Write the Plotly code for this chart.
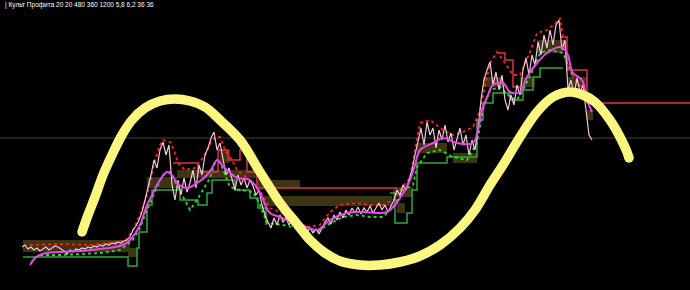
import plotly.graph_objects as go

# ---- data (chart units: x = bar position, y = price level, axis inverted) ----
price_start, price_step = 22, 3
price_y = [
    247, 245, 249, 247, 250, 248, 251, 249, 247, 250, 248, 246, 247, 249, 251, 254, 250, 252, 249, 250,
    248, 249, 247, 248, 246, 247, 245, 246, 244, 245, 243, 244, 242, 243, 241, 240, 237,
    230, 226, 220, 212, 200, 188, 175, 160, 168, 150,
    142, 155, 145, 185, 200, 180, 195, 178, 192, 183,
    170, 188, 165, 175, 155, 148, 138, 132, 150, 143,
    160, 175, 168, 180, 190, 175, 185, 178, 188, 180,
    186, 195, 190, 205, 215, 222, 228, 218, 225, 215,
    222, 218, 225, 220, 228, 225, 230, 226, 232, 228,
    233, 229, 234, 228, 222, 218, 224, 215, 220, 212,
    218, 210, 215, 208, 213, 207, 214, 208, 212, 206,
    213, 208, 203, 210, 205, 212, 206, 200, 190, 195,
    185, 190, 180, 170, 155, 140, 128, 145, 122, 135,
    128, 148, 130, 140, 125, 142, 133, 150, 140, 128,
    145, 135, 155, 140, 150, 130, 100, 80, 70, 62,
    85, 72, 90, 75, 100, 110, 95, 105, 85, 95,
    70, 58, 75, 55, 65, 42, 55, 35, 48, 30,
    45, 25, 20, 50, 40, 90, 80, 95, 78, 92,
    85, 110, 135, 140,
]
price_x = [price_start + price_step * i for i in range(len(price_y))]

ma_x = [30, 35, 42, 60, 80, 100, 115, 125, 132, 140, 147, 153, 160, 167, 172, 177, 187, 197, 207, 212,
        217, 222, 227, 237, 250, 260, 270, 280, 287, 300, 307, 317, 330, 347, 363, 377, 387, 395, 400, 405,
        410, 415, 420, 433, 443, 457, 473, 478, 482, 488, 493, 503, 510, 520, 527, 537, 547, 560, 567, 573,
        582, 587, 592]
ma_y = [265, 258, 254, 252, 251, 249, 247, 244, 238, 225, 205, 193, 180, 172, 175, 183, 188, 183, 175, 168,
        160, 165, 170, 178, 180, 193, 213, 217, 220, 225, 227, 230, 220, 213, 212, 213, 212, 205, 198, 190,
        180, 165, 150, 143, 138, 143, 143, 130, 110, 95, 85, 83, 92, 92, 77, 63, 53, 47, 53, 73,
        80, 100, 112]

upper_x = [30, 60, 90, 110, 125, 133, 140, 147, 155, 160, 163, 170, 174, 178, 185, 195, 205, 212, 217, 220,
           225, 232, 237, 247, 253, 260, 265, 270, 287, 307, 320, 330, 340, 357, 370, 383, 393, 400, 410, 415,
           420, 430, 443, 453, 463, 473, 480, 490, 497, 503, 513, 520, 530, 537, 547, 557, 560, 563, 567, 573,
           580, 585]
upper_y = [245, 244, 245, 243, 241, 230, 215, 195, 160, 145, 140, 142, 150, 163, 170, 168, 155, 140, 137, 137,
           150, 160, 170, 178, 183, 190, 200, 208, 215, 227, 225, 212, 205, 203, 205, 205, 200, 190, 178, 150,
           123, 120, 130, 135, 132, 127, 110, 63, 52, 60, 75, 75, 52, 33, 30, 22, 18, 37, 57, 77,
           85, 95]

lower_x = [40, 60, 80, 100, 120, 133, 140, 147, 157, 163, 170, 177, 183, 190, 197, 203, 210, 215, 220, 230,
           240, 253, 260, 267, 283, 307, 317, 327, 343, 357, 370, 383, 393, 403, 413, 417, 427, 440, 453, 467,
           477, 483, 490, 500, 510, 517, 523, 533, 540, 550, 563, 573]
lower_y = [255, 255, 254, 253, 250, 240, 228, 210, 187, 175, 172, 185, 197, 210, 200, 190, 178, 163, 162, 187,
           190, 192, 205, 223, 225, 230, 232, 225, 217, 215, 217, 217, 207, 190, 185, 167, 153, 150, 157, 160,
           143, 110, 90, 87, 97, 100, 90, 70, 53, 50, 53, 77]

gstep_x = [23, 128, 137, 139, 147, 152, 172, 180, 198, 207, 212, 222, 235, 250, 258, 266, None,
           390, 395, 407, 412, 417, 447, 477, 483, 493, 510, 523, 533, 540, 563]
gstep_y = [257, 266, 248, 232, 205, 190, 190, 200, 205, 193, 180, 180, 190, 198, 208, 225, None,
           193, 223, 213, 190, 163, 157, 120, 103, 93, 100, 90, 77, 68, 68]

rstep_x = [173, 198, 218, 228, 240, 247, 257, 397, None, 497, 505, 513, 520, None, 560, 567, 587, 690]
rstep_y = [163, 172, 150, 160, 150, 172, 188, 188, None, 53, 60, 87, 87, None, 37, 70, 103, 103]

zone_x0 = [23, 128, 147, 177, 220, 257, 263, 393, 397, 417, 453, 483, 520, 537, 568, 587]
zone_x1 = [130, 137, 177, 257, 230, 300, 392, 413, 405, 447, 477, 503, 535, 563, 587, 593]
zone_y0 = [240, 248, 177, 170, 150, 180, 196, 187, 203, 143, 153, 77, 77, 40, 77, 110]
zone_y1 = [252, 257, 188, 178, 163, 188, 206, 197, 213, 153, 163, 87, 87, 53, 87, 120]

level_y = 138

curve_x = [82, 88, 95, 103, 112, 122, 132, 145, 160, 175, 190, 205, 220, 240, 260, 280, 297, 310, 325, 340,
           360, 380, 400, 420, 440, 460, 475, 490, 503, 520, 537, 553, 570, 583, 595, 610, 620, 627, 629]
curve_y = [232, 215, 197, 175, 155, 135, 120, 108, 101, 99, 101, 107, 120, 140, 172, 203, 224, 240, 253, 261,
           265, 265, 262, 256, 245, 228, 210, 185, 165, 137, 112, 97, 92, 95, 102, 120, 137, 152, 158]

title = "| Культ Профита 20 20 480 360 1200 5,8 6,2 36 36"

# ---- figure ----
fig = go.Figure()

for x0, x1, y0, y1 in zip(zone_x0, zone_x1, zone_y0, zone_y1):
    fig.add_shape(type="rect", xref="x", yref="y", x0=x0, x1=x1, y0=y0, y1=y1,
                  fillcolor="#3b3513", line_width=0, layer="below")

fig.add_trace(go.Scatter(x=[0, 690], y=[level_y, level_y], mode="lines",
                         line=dict(color="#4e3c40", width=1), hoverinfo="skip"))
fig.add_trace(go.Scatter(x=gstep_x, y=gstep_y, mode="lines", line_shape="hv",
                         line=dict(color="#33a83a", width=1.5), connectgaps=False))
fig.add_trace(go.Scatter(x=rstep_x, y=rstep_y, mode="lines", line_shape="hv",
                         line=dict(color="#e0304a", width=1.5), connectgaps=False))
fig.add_trace(go.Scatter(x=lower_x, y=lower_y, mode="lines",
                         line=dict(color="#22e022", width=1.8, dash="dot")))
fig.add_trace(go.Scatter(x=upper_x, y=upper_y, mode="lines",
                         line=dict(color="#ff1f1f", width=1.8, dash="dot")))
fig.add_trace(go.Scatter(x=price_x, y=price_y, mode="lines",
                         line=dict(color="#f3c6d8", width=1.2)))
fig.add_trace(go.Scatter(x=ma_x, y=ma_y, mode="lines", line_shape="spline",
                         line=dict(color="#ee44ee", width=2)))
fig.add_trace(go.Scatter(x=curve_x, y=curve_y, mode="lines", line_shape="spline",
                         line=dict(color="#fbf77e", width=9.5, smoothing=1.0)))
fig.add_trace(go.Scatter(x=[curve_x[0], curve_x[-1]], y=[curve_y[0], curve_y[-1]], mode="markers",
                         marker=dict(color="#fbf77e", size=9.5, line_width=0)))

fig.add_annotation(text=title, xref="paper", yref="paper", x=0.004, y=1.0, yshift=1,
                   xanchor="left", yanchor="top", showarrow=False,
                   font=dict(family="Liberation Sans Narrow, Liberation Sans, Arial", size=6.5, color="#ffffff"))

fig.update_layout(
    width=690, height=290, margin=dict(l=0, r=0, t=0, b=0),
    paper_bgcolor="#000000", plot_bgcolor="#000000", showlegend=False,
    xaxis=dict(range=[0, 690], visible=False, fixedrange=True),
    yaxis=dict(range=[290, 0], visible=False, fixedrange=True),
)

fig.write_html("out.html")
